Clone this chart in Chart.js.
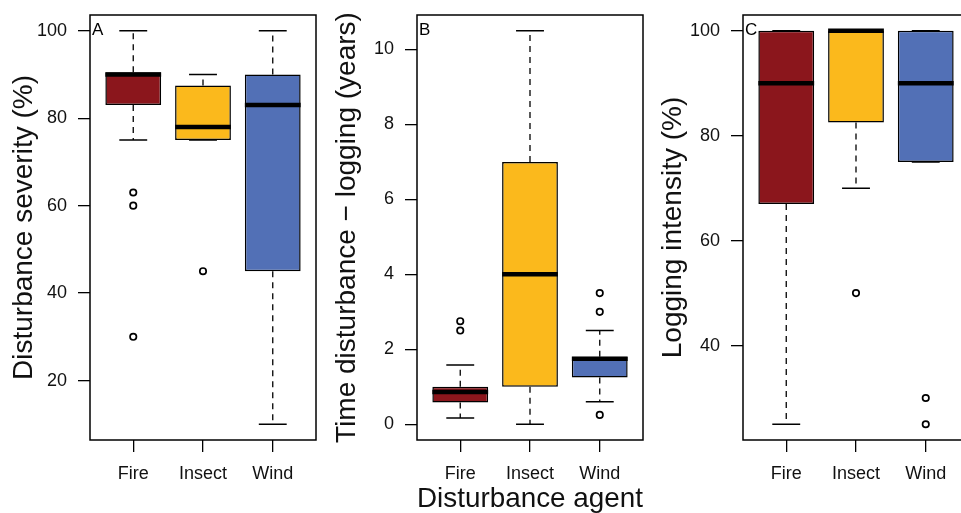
<!DOCTYPE html>
<html>
<head>
<meta charset="utf-8">
<title>Disturbance agent boxplots</title>
<script src="https://cdn.jsdelivr.net/npm/chart.js@4.4.1/dist/chart.umd.min.js"></script>
<style>
  html, body { margin: 0; padding: 0; background: #fff; }
  body { width: 961px; height: 513px; overflow: hidden; position: relative; }
  canvas { position: absolute; top: 0; }
</style>
</head>
<body>
<canvas id="chartA" width="330" height="513" style="left:0px"></canvas>
<canvas id="chartB" width="330" height="517" style="left:322px"></canvas>
<canvas id="chartC" width="340" height="513" style="left:640px"></canvas>
<script>
const agents = ['Fire', 'Insect', 'Wind'];
const colours = ['#8b161c', '#fbb91c', '#5270b6'];

// A: disturbance severity (%)
const sevLow = [75, 75, 10];
const sevQ1 = [83, 75, 45];
const sevMed = [90, 78, 83];
const sevQ3 = [90.5, 87.5, 90];
const sevHigh = [100, 90, 100];
const sevOut = [[63, 60, 30], [45], []];
const sevTicks = [20, 40, 60, 80, 100];

// B: time disturbance - logging (years)
const timeLow = [0.17, 0, 0.6];
const timeQ1 = [0.58, 1, 1.25];
const timeMed = [0.86, 4, 1.75];
const timeQ3 = [1, 7, 1.8];
const timeHigh = [1.58, 10.5, 2.5];
const timeOut = [[2.5, 2.75], [], [3, 3.5, 0.25]];
const timeTicks = [0, 2, 4, 6, 8, 10];

// C: logging intensity (%)
const logLow = [25, 70, 75];
const logQ1 = [67, 82.5, 75];
const logMed = [90, 100, 90];
const logQ3 = [100, 100, 100];
const logHigh = [100, 100, 100];
const logOut = [[], [50], [30, 25]];
const logTicks = [40, 60, 80, 100];

const font = 'Liberation Sans, Arial, Helvetica, sans-serif';

function boxParts(p, top) {
    return {
        id: 'boxParts',
        beforeDatasetsDraw(chart) {
            const ctx = chart.ctx, x = chart.scales.x, y = chart.scales.y;
            const staple = x.getPixelForValue(1.2) - x.getPixelForValue(1);
            ctx.save();
            ctx.strokeStyle = '#000';
            for (let i = 0; i < agents.length; i++) {
                const px = x.getPixelForValue(i + 1);
                // dashed whiskers
                ctx.lineWidth = 1.3;
                ctx.setLineDash([6, 5]);
                ctx.beginPath();
                ctx.moveTo(px, y.getPixelForValue(p.q3[i]));
                ctx.lineTo(px, y.getPixelForValue(p.high[i]));
                ctx.moveTo(px, y.getPixelForValue(p.q1[i]));
                ctx.lineTo(px, y.getPixelForValue(p.low[i]));
                ctx.stroke();
                // staples
                ctx.setLineDash([]);
                ctx.lineWidth = 1.5;
                ctx.beginPath();
                ctx.moveTo(px - staple, y.getPixelForValue(p.high[i]));
                ctx.lineTo(px + staple, y.getPixelForValue(p.high[i]));
                ctx.moveTo(px - staple, y.getPixelForValue(p.low[i]));
                ctx.lineTo(px + staple, y.getPixelForValue(p.low[i]));
                ctx.stroke();
            }
            ctx.restore();
        },
        afterDatasetsDraw(chart) {
            const ctx = chart.ctx, x = chart.scales.x, y = chart.scales.y;
            const half = x.getPixelForValue(1.4) - x.getPixelForValue(1);
            ctx.save();
            ctx.strokeStyle = '#000';
            ctx.lineWidth = 4.5;
            ctx.lineCap = 'butt';
            for (let i = 0; i < agents.length; i++) {
                const px = x.getPixelForValue(i + 1);
                const py = y.getPixelForValue(p.med[i]);
                ctx.beginPath();
                ctx.moveTo(px - half, py);
                ctx.lineTo(px + half, py);
                ctx.stroke();
            }
            ctx.restore();
        },
        afterDraw(chart) {
            const ctx = chart.ctx, a = chart.chartArea;
            ctx.save();
            ctx.strokeStyle = '#000';
            ctx.lineWidth = 1.5;
            ctx.strokeRect(a.left, a.top, a.right - a.left, a.bottom - a.top);
            ctx.fillStyle = '#000';
            ctx.font = '17px ' + font;
            ctx.textAlign = 'left';
            ctx.textBaseline = 'middle';
            ctx.fillText(p.letter, a.left + 2, chart.scales.y.getPixelForValue(top));
            ctx.restore();
        }
    };
}

function drawPanel(id, p, lay) {
    const all = [...p.low, ...p.high, ...p.out.flat()];
    const lo = Math.min(...all), hi = Math.max(...all);
    const pad = (hi - lo) * 0.04;
    const outliers = [];
    p.out.forEach((vals, i) => vals.forEach(v => outliers.push({x: i + 1, y: v})));

    new Chart(document.getElementById(id), {
        type: 'bar',
        data: {
            datasets: [{
                type: 'bar',
                data: agents.map((a, i) => ({x: i + 1, y: [p.q1[i], p.q3[i]]})),
                backgroundColor: colours,
                borderColor: '#000',
                borderWidth: 1.5,
                borderSkipped: false,
                barPercentage: 0.8,
                categoryPercentage: 1
            }, {
                type: 'scatter',
                data: outliers,
                pointRadius: 3.2,
                pointBorderWidth: 1.7,
                pointBorderColor: '#000',
                pointBackgroundColor: 'rgba(0,0,0,0)'
            }]
        },
        options: {
            responsive: false,
            animation: false,
            layout: {padding: {top: 15, right: lay.right, bottom: 0, left: 0}},
            plugins: {legend: {display: false}, tooltip: {enabled: false}},
            scales: {
                x: {
                    type: 'linear',
                    min: 0.38,
                    max: 3.62,
                    offset: false,
                    afterBuildTicks: s => { s.ticks = agents.map((a, i) => ({value: i + 1})); },
                    afterFit: s => { s.height = lay.xH; s.paddingLeft = 0; s.paddingRight = 0; },
                    grid: {offset: false, drawOnChartArea: false, tickLength: 12, color: '#000', tickColor: '#000', lineWidth: 1.3},
                    border: {display: false},
                    ticks: {
                        padding: 11,
                        color: '#111',
                        font: {family: font, size: 18},
                        maxRotation: 0,
                        autoSkip: false,
                        callback: v => agents[v - 1]
                    },
                    title: {
                        display: !!lay.xTitle,
                        text: lay.xTitle || '',
                        color: '#111',
                        font: {family: font, size: 28},
                        padding: {top: 0, bottom: 1}
                    }
                },
                y: {
                    min: lo - pad,
                    max: hi + pad,
                    afterBuildTicks: s => { s.ticks = p.ticks.map(v => ({value: v})); },
                    afterFit: s => { s.width = lay.yW; s.paddingTop = 0; s.paddingBottom = 0; },
                    grid: {drawOnChartArea: false, tickLength: 12, color: '#000', tickColor: '#000', lineWidth: 1.3},
                    border: {display: false},
                    ticks: {padding: 11, color: '#111', font: {family: font, size: 18}},
                    title: {
                        display: true,
                        text: p.title,
                        color: '#111',
                        font: {family: font, size: 28},
                        padding: {top: lay.titlePad, bottom: 0}
                    }
                }
            }
        },
        plugins: [boxParts(p, hi)]
    });
}

drawPanel('chartA', {
    low: sevLow, q1: sevQ1, med: sevMed, q3: sevQ3, high: sevHigh, out: sevOut,
    ticks: sevTicks, title: 'Disturbance severity (%)', letter: 'A'
}, {yW: 90, right: 14, xH: 73, titlePad: 7.8});

drawPanel('chartB', {
    low: timeLow, q1: timeQ1, med: timeMed, q3: timeQ3, high: timeHigh, out: timeOut,
    ticks: timeTicks, title: 'Time disturbance \u2212 logging (years)', letter: 'B'
}, {yW: 95, right: 9, xH: 77, titlePad: 8.8, xTitle: 'Disturbance agent'});

drawPanel('chartC', {
    low: logLow, q1: logQ1, med: logMed, q3: logQ3, high: logHigh, out: logOut,
    ticks: logTicks, title: 'Logging intensity (%)', letter: 'C'
}, {yW: 103, right: 11, xH: 73, titlePad: 16.8});
</script>
</body>
</html>
